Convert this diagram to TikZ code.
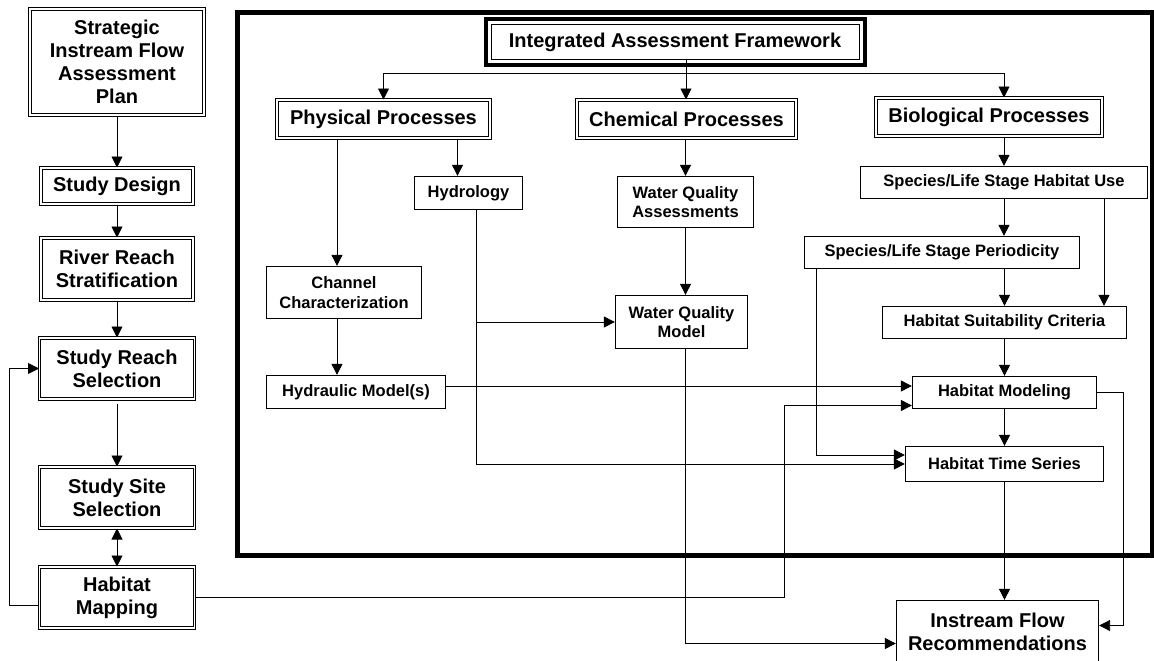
\documentclass[tikz,border=0pt]{standalone}
\usepackage{fontspec}
\setmainfont{Liberation Sans}
\usetikzlibrary{arrows.meta,calc}
\def\bigfont{\fontsize{20}{23}\selectfont\bfseries}
\def\smallfont{\fontsize{16.5}{19.5}\selectfont\bfseries}
\begin{document}
\begin{tikzpicture}[x=1pt,y=-1pt]
            \tikzset{
                dbox/.style={draw, double, double distance=1.6pt, line width=1pt, font=\bigfont, align=center, inner sep=0pt},
                sbox/.style={draw, line width=1.3pt, font=\smallfont, align=center, inner sep=0pt},
                arr/.style={-{Triangle[length=11pt,width=11pt]}, line width=0.9pt},
                arrboth/.style={{Triangle[length=11pt,width=11pt]}-{Triangle[length=11pt,width=11pt]}, line width=0.9pt},}
            \useasboundingbox (0,0) rectangle (1154,661);
            % left column
            \node[dbox, minimum width=174, minimum height=106] (strat) at (117,62) {Strategic\\Instream Flow\\Assessment\\Plan};
            \node[dbox, minimum width=152, minimum height=36] (design) at (117,186) {Study Design};
            \node[dbox, minimum width=152, minimum height=62] (strata) at (117,269) {River Reach\\Stratification};
            \node[dbox, minimum width=155, minimum height=61] (reach) at (117,368.5) {Study Reach\\Selection};
            \node[dbox, minimum width=155, minimum height=61] (site) at (117,497.5) {Study Site\\Selection};
            \node[dbox, minimum width=155, minimum height=61] (hmap) at (117,597.5) {Habitat\\Mapping};
            \draw[arr] (strat) -- (design);
            \draw[arr] (design) -- (strata);
            \draw[arr] (strata) -- (reach);
            \draw[arr] ([yshift=-4pt]reach.south) -- (site);
            \draw[arrboth] (site) -- (hmap);
            \draw[arr] ([yshift=-8pt]hmap.west) -- ++(-30,0) |- (reach.west);
            % framework
            \draw[line width=5pt] (237.5,13) rectangle (1152.5,555);
            \node[draw, line width=1pt, font=\bigfont, minimum width=368, minimum height=35, inner sep=0pt] (ifw) at (675,42.5) {Integrated Assessment Framework};
            \draw[line width=4pt] ([shift={(-5,-5)}]ifw.north west) rectangle ([shift={(5,5)}]ifw.south east);
            \node[dbox, minimum width=213, minimum height=38] (phys) at (383.5,119) {Physical Processes};
            \node[dbox, minimum width=219, minimum height=38] (chem) at (686.5,119) {Chemical Processes};
            \node[dbox, minimum width=226, minimum height=38] (bio) at (989,117) {Biological Processes};
            \node[sbox, minimum width=108, minimum height=33] (hydro) at (468.5,193) {Hydrology};
            \node[sbox, minimum width=136, minimum height=51] (wqa) at (685.5,202) {Water Quality\\Assessments};
            \node[sbox, minimum width=155, minimum height=52] (chan) at (344,292.5) {Channel\\Characterization};
            \node[sbox, minimum width=179, minimum height=33] (hydr) at (356,392) {Hydraulic Model(s)};
            \node[sbox, minimum width=132, minimum height=53] (wqm) at (681.5,322) {Water Quality\\Model};
            \node[sbox, minimum width=287, minimum height=32] (slshu) at (1004,182.5) {Species/Life Stage Habitat Use};
            \node[sbox, minimum width=275, minimum height=32] (slsp) at (942,252.5) {Species/Life Stage Periodicity};
            \node[sbox, minimum width=244, minimum height=32] (hsc) at (1004.5,322.5) {Habitat Suitability Criteria};
            \node[sbox, minimum width=184, minimum height=32] (hmod) at (1004.5,392.5) {Habitat Modeling};
            \node[sbox, minimum width=198, minimum height=35] (hts) at (1004.5,464) {Habitat Time Series};
            \node[sbox, font=\bigfont, minimum width=202, minimum height=62] (ifr) at (997.5,631.5) {Instream Flow\\Recommendations};
            \coordinate (bus) at (686,73);
            \draw[line width=0.9pt] (ifw.south -| bus) -- (bus);
            \draw[arr] (bus) -- (chem.north -| bus);
            \draw[arr] (bus) -| (phys.north);
            \draw[arr] (bus) -| (bio.north -| slshu.north);
            \draw[arr] ([xshift=-11pt]hydro.north |- phys.south) -- ([xshift=-11pt]hydro.north);
            \draw[arr] ([xshift=-7pt]chan.north |- phys.south) -- ([xshift=-7pt]chan.north);
            \draw[arr] ([xshift=-7pt]chan.south) -- ([xshift=-7pt]chan.south |- hydr.north);
            \draw[arr] (chem.south -| wqa.north) -- (wqa.north);
            \draw[arr] (wqa.south) -- (wqa.south |- wqm.north);
            \draw[arr] (wqm.south -| wqa.south) |- ([yshift=-12pt]ifr.west);
            \draw[arr] ([xshift=7.5pt]hydro.south) |- (hts.west);
            \draw[arr] ([xshift=7.5pt]hydro.south |- wqm.west) -- (wqm.west);
            \draw[arr] ([yshift=6pt]hydr.east) -- ([yshift=6pt]hydr.east -| hmod.west);
            \draw[arr] (hmap.east) -| ([xshift=-127pt,yshift=-13pt]hmod.west) -- ([yshift=-13pt]hmod.west);
            \draw[arr] (bio.south -| slshu.north) -- (slshu.north);
            \draw[arr] (slshu.south) -- (slshu.south |- slsp.north);
            \draw[arr] ([xshift=100pt]slshu.south) -- ([xshift=100pt]slshu.south |- hsc.north);
            \draw[arr] (slsp.south -| hsc.north) -- (hsc.north);
            \draw[arr] (hsc) -- (hmod);
            \draw[arr] (hmod) -- (hts);
            \draw[arr] ([xshift=-126pt]slsp.south) |- ([yshift=9pt]hts.west);
            \draw[arr] (hts.south) -- (hts.south |- ifr.north);
            \draw[arr] (hmod.east) -- ++(26,0) |- ([yshift=6pt]ifr.east);
        \end{tikzpicture}
\end{document}
